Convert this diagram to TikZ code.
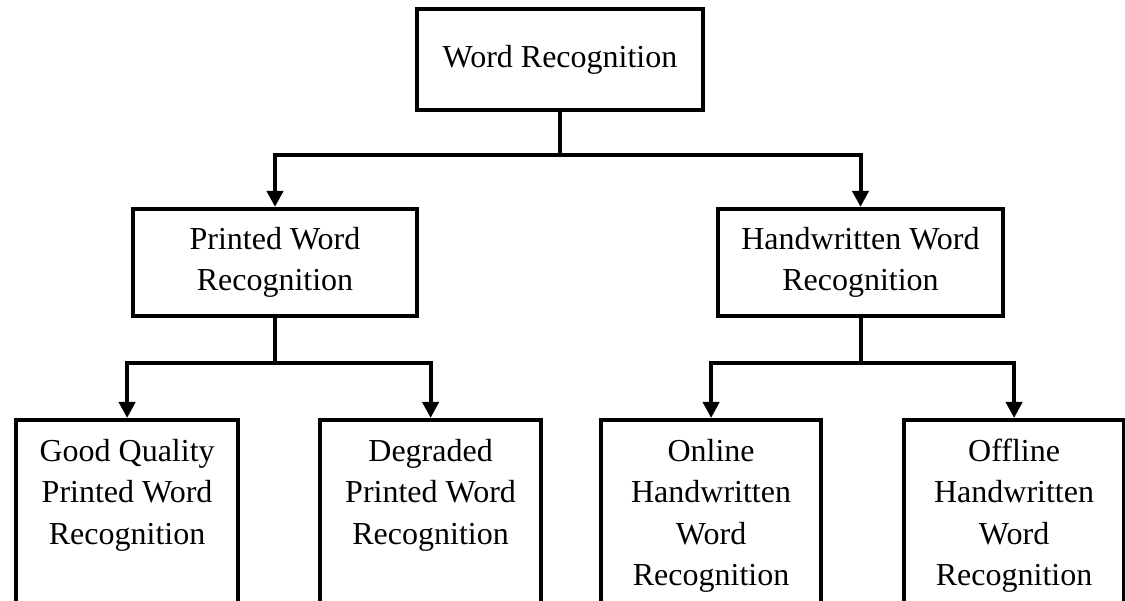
\documentclass[tikz,border=0pt]{standalone}
\usepackage{fontspec}
\setmainfont{Liberation Serif}
\usetikzlibrary{arrows.meta}
\begin{document}
\begin{tikzpicture}[x=1pt,y=-1pt,
  box/.style={draw,line width=4.2pt,inner sep=0pt,font=\fontsize{32}{41.5}\selectfont,align=center},
  leaf/.style={box,anchor=north west,text height=41pt,text depth=142pt},
  conn/.style={line width=4pt},
  arr/.style={conn,-{Triangle[length=16pt,width=16pt]}}]
\useasboundingbox (0,0) rectangle (1125,601);
\node[box,minimum width=286pt,minimum height=101pt] (wr) at (560,59.5) {Word Recognition};
\node[box,minimum width=284pt,minimum height=107pt] (pw) at (275,262.5) {Printed Word\\Recognition};
\node[box,minimum width=285pt,minimum height=107pt] (hw) at (860.5,262.5) {Handwritten Word\\Recognition};
\node[leaf,minimum width=222pt] (gq) at (14,418) {\parbox[t]{205pt}{\centering Good Quality\\Printed Word\\Recognition}};
\node[leaf,minimum width=221pt] (dg) at (318,418) {\parbox[t]{205pt}{\centering Degraded\\Printed Word\\Recognition}};
\node[leaf,minimum width=220pt] (on) at (599,418) {\parbox[t]{205pt}{\centering Online\\Handwritten\\Word\\Recognition}};
\node[leaf,minimum width=220pt] (of) at (902,418) {\parbox[t]{205pt}{\centering Offline\\Handwritten\\Word\\Recognition}};
\draw[arr] (wr.south) -- ++(0,43) -| (pw.north);
\draw[arr] (wr.south) -- ++(0,43) -| (hw.north);
\draw[arr] (pw.south) -- ++(0,45) -| (gq.north);
\draw[arr] (pw.south) -- ++(0,45) -| (dg.north);
\draw[arr] (hw.south) -- ++(0,45) -| (on.north);
\draw[arr] (hw.south) -- ++(0,45) -| (of.north);
\end{tikzpicture}
\end{document}
